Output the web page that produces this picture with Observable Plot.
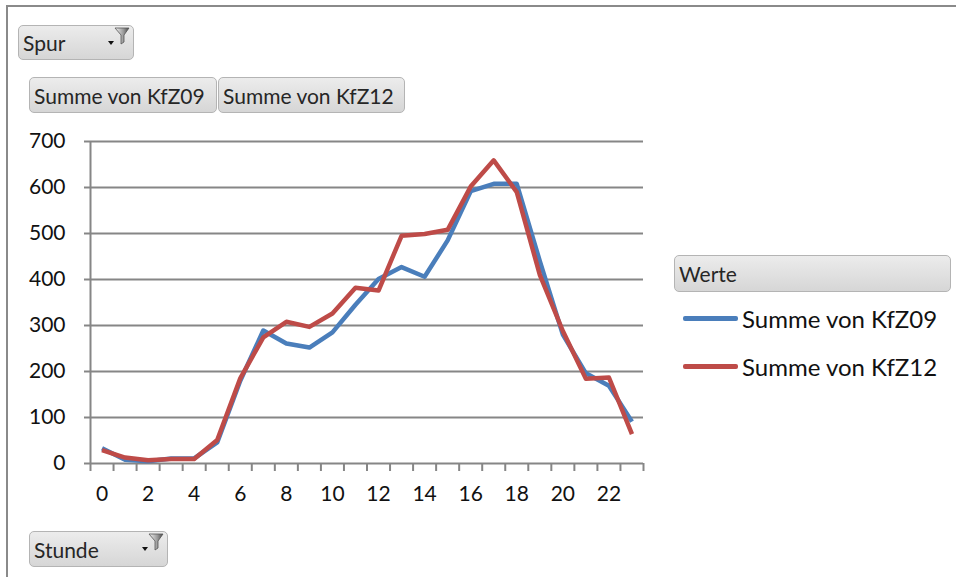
<!DOCTYPE html>
<html>
<head>
<meta charset="utf-8">
<script src="https://cdn.jsdelivr.net/npm/d3@7"></script>
<script src="https://cdn.jsdelivr.net/npm/@observablehq/plot@0.6"></script>
<style>
  html, body { margin: 0; padding: 0; background: #fff; }
  #wrap { position: relative; width: 956px; height: 577px; overflow: hidden; font-family: Lato, "Noto Sans", sans-serif; }
  #frame { position: absolute; left: 6px; top: 5px; width: 960px; height: 600px; border-left: 2px solid #8a8a8a; border-top: 2px solid #8a8a8a; }
  #chart { position: absolute; left: 0; top: 0; }
  .btn { position: absolute; box-sizing: border-box; border: 1px solid #b4b4b4; border-radius: 5px;
         background: linear-gradient(#ececec, #d6d6d6); color: #262626; font-size: 21px; line-height: 1;
         display: flex; align-items: center; padding-left: 4px; white-space: nowrap; }
  .funnel { position: absolute; }
  .leg { position: absolute; display: flex; align-items: center; font-size: 24px; color: #111; white-space: nowrap; }
  .leg .sw { width: 55px; height: 5px; margin-right: 4px; border-radius: 2px; }
</style>
</head>
<body>
<div id="wrap">
  <div id="frame"></div>
  <div id="chart"></div>
</div>
<script>
// ---- data ----
const hours = [0,1,2,3,4,5,6,7,8,9,10,11,12,13,14,15,16,17,18,19,20,21,22,23];
const kfz09 = [33, 8, 5, 11, 11, 46, 180, 289, 261, 252, 285, 345, 401, 427, 406, 485, 592, 608, 608, 440, 280, 196, 169, 91];
const kfz12 = [29, 13, 7, 10, 10, 51, 185, 274, 308, 297, 326, 382, 376, 495, 499, 508, 602, 659, 590, 410, 288, 184, 187, 64];
const seriesNames = ["Summe von KfZ09", "Summe von KfZ12"];
const seriesColors = ["#4a7ebb", "#be4b48"];
const yTicks = [0, 100, 200, 300, 400, 500, 600, 700];
const xTickLabels = [0, 2, 4, 6, 8, 10, 12, 14, 16, 18, 20, 22];
const xBoundaries = d3.range(-0.5, 24, 1);

const rows = [];
hours.forEach((h, i) => {
  rows.push({hour: h, value: kfz09[i], series: seriesNames[0]});
});
hours.forEach((h, i) => {
  rows.push({hour: h, value: kfz12[i], series: seriesNames[1]});
});

const gray = "#868686";
const chart = Plot.plot({
  width: 956,
  height: 577,
  marginLeft: 90,
  marginRight: 313,
  marginTop: 141,
  marginBottom: 114,
  style: {background: "transparent", fontFamily: "Lato, 'Noto Sans', sans-serif", overflow: "visible"},
  x: {domain: [-0.5, 23.5], axis: null},
  y: {domain: [0, 700], axis: null},
  color: {domain: seriesNames, range: seriesColors},
  marks: [
    Plot.ruleY(yTicks, {stroke: gray, strokeWidth: 2, x1: -0.5, x2: 23.5}),
    Plot.axisY({ticks: yTicks, label: null, tickSize: 6, tickPadding: 19, stroke: gray, strokeWidth: 2, fill: "#111", fontSize: 21, tickFormat: d => String(d)}),
    Plot.ruleX([-0.5], {stroke: gray, strokeWidth: 2, y1: 0, y2: 700}),
    Plot.axisX({ticks: xBoundaries, label: null, tickSize: 8, stroke: gray, strokeWidth: 2, tickFormat: () => ""}),
    Plot.axisX({ticks: xTickLabels, label: null, tickSize: 0, tickPadding: 23, fill: "#111", fontSize: 21, tickFormat: d => String(d)}),
    Plot.line(rows.filter(d => d.series === seriesNames[0]), {x: "hour", y: "value", stroke: "series", strokeWidth: 4.5, strokeLinecap: "butt"}),
    Plot.line(rows.filter(d => d.series === seriesNames[1]), {x: "hour", y: "value", stroke: "series", strokeWidth: 4.5, strokeLinecap: "butt"})
  ]
});
document.getElementById("chart").appendChild(chart);

const wrap = document.getElementById("wrap");
function funnelSvg(x, y) {
  return `<svg class="funnel" style="left:${x}px;top:${y}px" width="24" height="22" viewBox="0 0 24 22">
    <defs><linearGradient id="fg${x}" x1="0" x2="1"><stop offset="0" stop-color="#f4f4f4"/><stop offset="0.6" stop-color="#9a9a9a"/><stop offset="1" stop-color="#4a4a4a"/></linearGradient></defs>
    <path d="M9 1 L23 1 L18 8 L18 15 L15 17 L15 8 Z" fill="url(#fg${x})" stroke="#555" stroke-width="0.8"/>
    <path d="M2 14 L8 14 L5 18 Z" fill="#111"/>
  </svg>`;
}
function button(label, left, top, w, h, funnel) {
  const d = document.createElement("div");
  d.className = "btn";
  d.style.left = left + "px"; d.style.top = top + "px";
  d.style.width = w + "px"; d.style.height = h + "px";
  d.textContent = label;
  wrap.appendChild(d);
  if (funnel) wrap.insertAdjacentHTML("beforeend", funnelSvg(left + w - 28, top + 2));
}
button("Spur", 18, 25, 116, 35, true);
button(seriesNames[0], 29, 77, 188, 36, false);
button(seriesNames[1], 218, 77, 187, 36, false);
button("Werte", 674, 255, 277, 37, false);
button("Stunde", 29, 531, 139, 36, true);

seriesNames.forEach((name, i) => {
  const l = document.createElement("div");
  l.className = "leg";
  l.style.left = "683px";
  l.style.top = (318 + i * 48 - 16) + "px";
  l.style.height = "32px";
  l.innerHTML = `<span class="sw" style="background:${seriesColors[i]}"></span><span>${name}</span>`;
  wrap.appendChild(l);
});
</script>
</body>
</html>
